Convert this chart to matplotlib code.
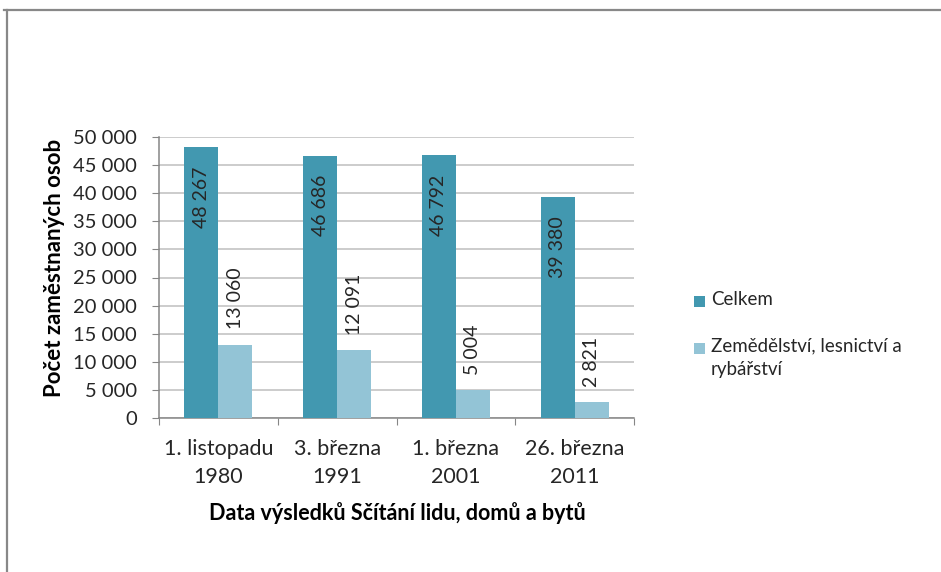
import matplotlib
matplotlib.use("Agg")
import matplotlib.pyplot as plt
from matplotlib.lines import Line2D
from matplotlib.patches import Rectangle
import numpy as np

plt.rcParams["font.family"] = ["Lato", "DejaVu Sans"]

dates = ["1. listopadu\n1980", "3. března\n1991", "1. března\n2001", "26. března\n2011"]
celkem = [48267, 46686, 46792, 39380]
zemedelstvi = [13060, 12091, 5004, 2821]
series_names = ["Celkem", "Zemědělství, lesnictví a\nrybářství"]
yticks = np.arange(0, 50001, 5000)

dark = "#4298B0"
light = "#93C4D6"
textc = "#262626"
grid = "#BFBFBF"


def fmt(v):
	return "{:,}".format(int(v)).replace(",", " ")


fig = plt.figure(figsize=(9.41, 5.72), dpi=100)
W, H = 941., 572.
ax = fig.add_axes([159 / W, 1 - 418 / H, (634 - 159) / W, (418 - 137) / H])

x = np.arange(len(dates))
w = 0.286
b1 = ax.bar(x - w / 2, celkem, w, color=dark, zorder=3)
b2 = ax.bar(x + w / 2, zemedelstvi, w, color=light, zorder=3)

for r, v in zip(b1, celkem):
	ax.annotate(fmt(v), (r.get_x() + r.get_width() / 2, v), xytext=(0, -14),
		textcoords="offset points", rotation=90, ha="center", va="top",
		fontsize=14, color=textc)
for r, v in zip(b2, zemedelstvi):
	ax.annotate(fmt(v), (r.get_x() + r.get_width() / 2, v), xytext=(0, 11),
		textcoords="offset points", rotation=90, ha="center", va="bottom",
		fontsize=14, color=textc)

ax.set_xlim(-0.5, len(dates) - 0.5)
ax.set_ylim(0, 50000)
ax.set_yticks(yticks)
ax.set_yticklabels([fmt(t) for t in yticks], fontsize=14.5, color=textc)
ax.yaxis.grid(True, color=grid, linewidth=1.1, zorder=0)
ax.set_axisbelow(True)

# category labels sit between the boundary ticks
ax.set_xticks(np.arange(-0.5, len(dates) + 0.5, 1))
ax.set_xticklabels([])
ax.set_xticks(x, minor=True)
ax.set_xticklabels(dates, minor=True, fontsize=15.5, color=textc, linespacing=1.5)
ax.tick_params(axis="x", which="minor", length=0, pad=15)
ax.tick_params(axis="x", which="major", length=5, color="#868686")
ax.tick_params(axis="y", length=5, color="#868686", pad=11)

for s in ["top", "right"]:
	ax.spines[s].set_visible(False)
for s in ["left", "bottom"]:
	ax.spines[s].set_color("#868686")
	ax.spines[s].set_linewidth(1.1)

ax.set_ylabel("Počet zaměstnaných osob", fontsize=16, fontweight="bold",
	color="#000000", va="center")
ax.yaxis.set_label_coords(-0.219, 0.534)
ax.set_xlabel("Data výsledků Sčítání lidu, domů a bytů", fontsize=15.5,
	fontweight="bold", color="#000000", va="center")
ax.xaxis.set_label_coords(0.502, -0.338)

# legend
for i, (name, c) in enumerate(zip(series_names, [dark, light])):
	yc = [301, 348][i]
	fig.patches.append(Rectangle((694 / W, 1 - (yc + 5.5) / H), 11 / W, 11 / H,
		transform=fig.transFigure, facecolor=c, edgecolor="none"))
	fig.text(711 / W, 1 - (yc - 10.5) / H, name, fontsize=13.5, color=textc,
		va="top", ha="left", linespacing=1.5)

# outer chart frame
fig.lines.append(Line2D([4 / W, 1], [1 - 10 / H, 1 - 10 / H],
	transform=fig.transFigure, color="#888888", linewidth=1.6))
fig.lines.append(Line2D([7 / W, 7 / W], [0, 1 - 10 / H],
	transform=fig.transFigure, color="#888888", linewidth=1.6))

fig.savefig("out.png", dpi=100)
